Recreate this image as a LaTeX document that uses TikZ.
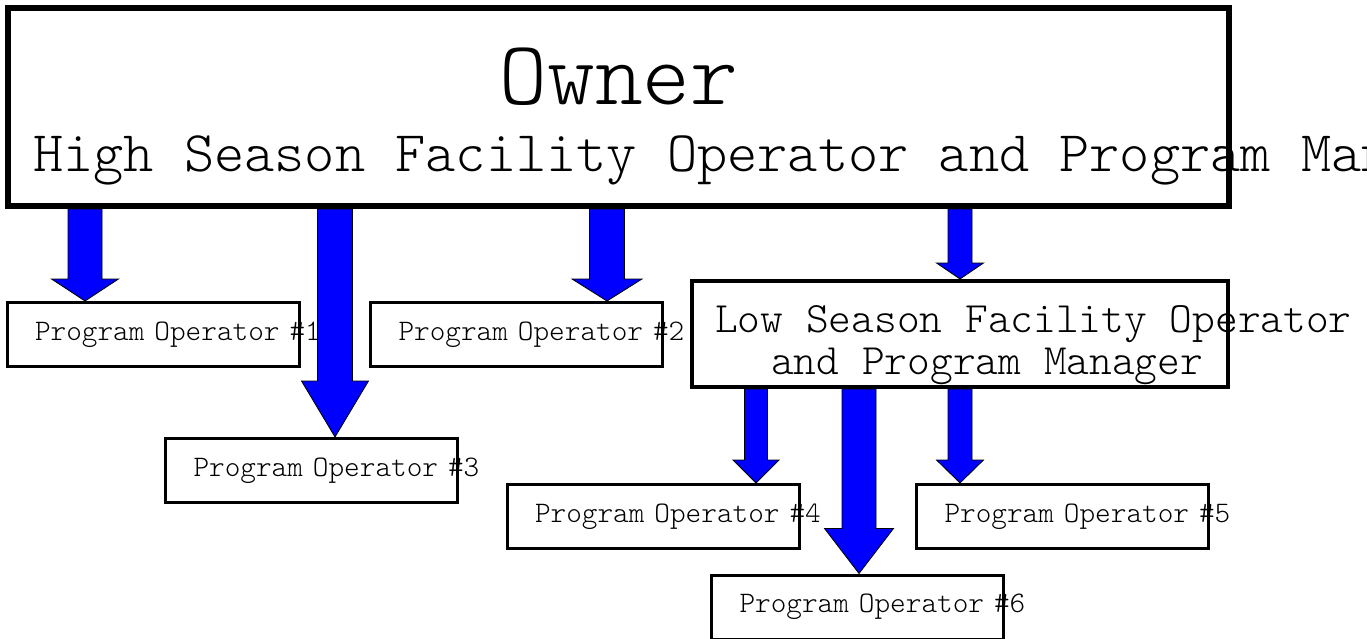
\documentclass[tikz,border=0pt]{standalone}
\usepackage{fontspec}
\newfontfamily\courier{lmmonolt10-regular.otf}
\usepackage{xcolor}
\usepackage{tikz}
\usetikzlibrary{calc}

\newcommand\ownersize{\courier\fontsize{91pt}{94pt}\selectfont}
\newcommand\rolesize{\courier\fontsize{57.5pt}{62pt}\selectfont}
\newcommand\lowsize{\courier\fontsize{43.3pt}{48pt}\selectfont}
\newcommand\opsize{\courier\fontsize{29.8pt}{33pt}\selectfont}

% block arrow: x, from node, to node, half shaft, half head, head length
\newcommand\flowarrow[6]{%
  \filldraw[flow] let \p1=(#2.south), \p2=(#3.north) in
    (#1pt-#4pt,\y1) -- (#1pt-#4pt,\y2+#6pt) -- (#1pt-#5pt,\y2+#6pt) -- (#1pt,\y2)
    -- (#1pt+#5pt,\y2+#6pt) -- (#1pt+#4pt,\y2+#6pt) -- (#1pt+#4pt,\y1) -- cycle;}

\begin{document}
\begin{tikzpicture}[
  x=1pt, y=-1pt,
  opbox/.style={draw, line width=3pt, minimum width=292pt, minimum height=64pt,
    inner xsep=28pt, text width=236pt, align=left, font=\opsize},
  bigbox/.style={draw, inner sep=0pt},
  caption/.style={inner sep=0pt, anchor=base west},
  flow/.style={fill=blue, draw=black, line width=0.8pt}
]
\useasboundingbox (0,0) rectangle (1367,639);
\node[bigbox, line width=6pt, minimum width=1221pt, minimum height=198pt] (owner) at (618.5,107) {};
\node[inner sep=0pt, anchor=base, font=\ownersize] (owner name) at (619,105) {Owner};
\node[caption, font=\rolesize] (owner role) at (33,172) {High Season Facility Operator and Program Manager};
\node[bigbox, line width=4pt, minimum width=536pt, minimum height=106pt] (low) at (960,334) {};
\node[caption, font=\lowsize] (low role) at (715,332) {Low Season Facility Operator};
\node[caption, font=\lowsize] (low manager) at (771,374) {and Program Manager};
\node[opbox] (op1) at (153,334.5) {\mbox{Program Operator \#1}};
\node[opbox] (op2) at (516.5,334.5) {\mbox{Program Operator \#2}};
\node[opbox] (op3) at (311.5,470.5) {\mbox{Program Operator \#3}};
\node[opbox] (op4) at (653,516.5) {\mbox{Program Operator \#4}};
\node[opbox] (op5) at (1062.5,516.5) {\mbox{Program Operator \#5}};
\node[opbox] (op6) at (857.5,607) {\mbox{Program Operator \#6}};
\flowarrow{85}{owner}{op1}{17}{33.5}{22}
\flowarrow{335}{owner}{op3}{17.5}{33.5}{56}
\flowarrow{607}{owner}{op2}{17.5}{35}{22}
\flowarrow{960}{owner}{low}{12}{23.5}{16}
\flowarrow{756}{low}{op4}{11.5}{23}{23}
\flowarrow{859}{low}{op6}{17}{34.5}{45}
\flowarrow{960}{low}{op5}{12}{23.5}{23}
\end{tikzpicture}
\end{document}
